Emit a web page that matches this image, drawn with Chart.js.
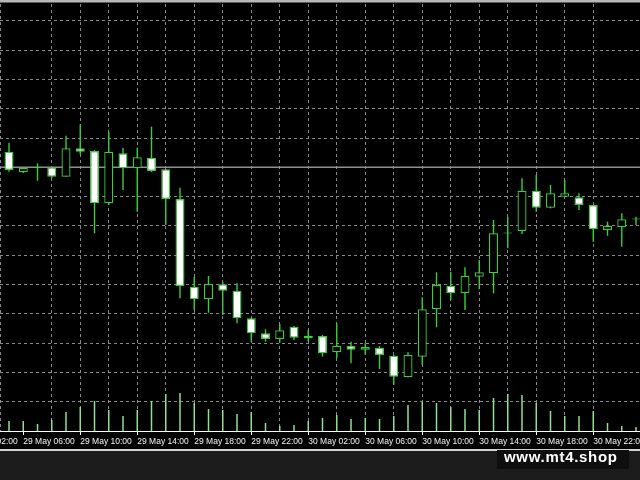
<!DOCTYPE html>
<html>
<head>
<meta charset="utf-8">
<script src="https://cdn.jsdelivr.net/npm/chart.js@4.4.1/dist/chart.umd.min.js"></script>
<style>
    html, body { margin: 0; padding: 0; background: #1c1c1c; }
    #wrap { position: relative; width: 640px; height: 480px; overflow: hidden; background: #1c1c1c; }
    #chartBox { position: absolute; left: 0; top: 0; width: 640px; height: 449px; }
    #sep { position: absolute; left: 0; top: 449px; width: 640px; height: 2px; background: #d2d2d2; }
    #brand { position: absolute; left: 497px; top: 450px; width: 132px; height: 19px; background: #0e0e0e; }
    #brand span { position: absolute; left: 7px; top: -2px; line-height: 17px; font: bold 15px 'Liberation Sans', Arial, sans-serif; letter-spacing: 0.7px; color: #ffffff; white-space: nowrap; }
</style>
</head>
<body>
<div id="wrap">
    <div id="chartBox"><canvas id="mtChart"></canvas></div>
    <div id="sep"></div>
    <div id="brand"><span>www.mt4.shop</span></div>
</div>
<script>
// hourly bars, 29 May 05:00 -> 31 May 01:00
var hours = [
    '29 May 05:00', '29 May 06:00', '29 May 07:00', '29 May 08:00', '29 May 09:00', '29 May 10:00',
    '29 May 11:00', '29 May 12:00', '29 May 13:00', '29 May 14:00', '29 May 15:00', '29 May 16:00',
    '29 May 17:00', '29 May 18:00', '29 May 19:00', '29 May 20:00', '29 May 21:00', '29 May 22:00',
    '29 May 23:00', '30 May 00:00', '30 May 01:00', '30 May 02:00', '30 May 03:00', '30 May 04:00',
    '30 May 05:00', '30 May 06:00', '30 May 07:00', '30 May 08:00', '30 May 09:00', '30 May 10:00',
    '30 May 11:00', '30 May 12:00', '30 May 13:00', '30 May 14:00', '30 May 15:00', '30 May 16:00',
    '30 May 17:00', '30 May 18:00', '30 May 19:00', '30 May 20:00', '30 May 21:00', '30 May 22:00',
    '30 May 23:00', '31 May 00:00', '31 May 01:00'
];

var openP = [
    1.10793, 1.10587, 1.10640, 1.10637, 1.10543, 1.10827, 1.10800, 1.10277, 1.10777, 1.10627,
    1.10733, 1.10617, 1.10320, 1.09443, 1.09317, 1.09467, 1.09403, 1.09127, 1.08977, 1.08920,
    1.09043, 1.08927, 1.08950, 1.08787, 1.08850, 1.08813, 1.08833, 1.08753, 1.08537, 1.08743,
    1.09217, 1.09453, 1.09377, 1.09543, 1.09577, 1.09975, 1.10000, 1.10403, 1.10233, 1.10343,
    1.10337, 1.10260, 1.10010, 1.10037, 1.10115
];
var highP = [
    1.10883, 1.10640, 1.10677, 1.10643, 1.10953, 1.11067, 1.10810, 1.10993, 1.10833, 1.10833,
    1.11043, 1.10620, 1.10433, 1.09543, 1.09550, 1.09493, 1.09477, 1.09130, 1.09017, 1.09070,
    1.09050, 1.09010, 1.08960, 1.09077, 1.08893, 1.08877, 1.08850, 1.08760, 1.08787, 1.09337,
    1.09587, 1.09593, 1.09637, 1.09710, 1.10110, 1.10143, 1.10527, 1.10560, 1.10460, 1.10510,
    1.10377, 1.10260, 1.10093, 1.10177, 1.10143
];
var lowP = [
    1.10593, 1.10580, 1.10503, 1.10527, 1.10543, 1.10767, 1.09977, 1.10260, 1.10410, 1.10193,
    1.10590, 1.10060, 1.09327, 1.09210, 1.09183, 1.09160, 1.09077, 1.08893, 1.08893, 1.08883,
    1.08910, 1.08893, 1.08743, 1.08727, 1.08677, 1.08760, 1.08620, 1.08460, 1.08537, 1.08660,
    1.09037, 1.09310, 1.09210, 1.09417, 1.09377, 1.09827, 1.09970, 1.10193, 1.10227, 1.10343,
    1.10210, 1.09893, 1.09953, 1.09843, 1.10060
];
var closeP = [
    1.10610, 1.10633, 1.10630, 1.10543, 1.10827, 1.10793, 1.10277, 1.10793, 1.10627, 1.10737,
    1.10600, 1.10320, 1.09450, 1.09317, 1.09470, 1.09403, 1.09127, 1.08977, 1.08920, 1.09007,
    1.08933, 1.08953, 1.08777, 1.08853, 1.08813, 1.08840, 1.08760, 1.08543, 1.08760, 1.09217,
    1.09460, 1.09377, 1.09550, 1.09587, 1.09977, 1.09985, 1.10403, 1.10233, 1.10377, 1.10377,
    1.10260, 1.10017, 1.10053, 1.10117, 1.10125
];
var volume = [
    400, 400, 280, 440, 760, 960, 1200, 840, 600, 840,
    1200, 1480, 1520, 1120, 880, 840, 680, 760, 320, 200,
    240, 400, 520, 640, 480, 520, 480, 600, 1040, 1160,
    1120, 960, 880, 840, 1320, 1480, 1440, 1120, 800, 600,
    600, 800, 320, 200, 160
];

// time scale labels every 4 hours (first one only half on screen)
var axisLabels = [
    '29 May 02:00', '29 May 06:00', '29 May 10:00', '29 May 14:00', '29 May 18:00', '29 May 22:00',
    '30 May 02:00', '30 May 06:00', '30 May 10:00', '30 May 14:00', '30 May 18:00', '30 May 22:00'
];
// price grid levels and the bid line
var priceGrid = [
    1.08000, 1.08293, 1.08586, 1.08879, 1.09172, 1.09465, 1.09758, 1.10051,
    1.10344, 1.10637, 1.10930, 1.11223, 1.11516, 1.11809, 1.12102
];
var bidLine = 1.10637;

var candleGreen = '#3ccd3c';
var volGreen = '#8fe08f';
var gridGrey = '#8a8a8a';

var bodyData = [], wickData = [], volData = [], bodyFill = [];
for (var i = 0; i < hours.length; i++) {
    var x = i - 1; // hours after 29 May 06:00
    bodyData.push({x: x, y: [openP[i], closeP[i]]});
    wickData.push({x: x, y: [lowP[i], highP[i]]});
    volData.push({x: x, y: volume[i]});
    bodyFill.push(closeP[i] > openP[i] ? '#000000' : '#ffffff');
}

var mtPlugin = {
    id: 'mt',
    beforeDraw: function (chart) {
        var c = chart.ctx;
        c.save();
        c.fillStyle = '#000000';
        c.fillRect(0, 0, chart.width, chart.height);
        c.fillStyle = '#b8b8b8';
        c.fillRect(0, 0, chart.width, 2);
        c.fillStyle = '#5c5c5c';
        c.fillRect(0, 2, chart.width, 1);
        c.restore();
    },
    beforeDatasetsDraw: function (chart) {
        var c = chart.ctx;
        var yb = chart.scales.y.getPixelForValue(bidLine);
        c.save();
        c.strokeStyle = '#8e8e8e';
        c.lineWidth = 1.5;
        c.beginPath();
        c.moveTo(chart.chartArea.left, yb);
        c.lineTo(chart.chartArea.right, yb);
        c.stroke();
        c.restore();
    },
    afterDraw: function (chart) {
        var c = chart.ctx;
        var xs = chart.scales.x;
        var bottom = chart.chartArea.bottom;
        c.save();
        c.font = "8.5px 'Liberation Sans', Arial, sans-serif";
        c.textAlign = 'left';
        c.textBaseline = 'alphabetic';
        c.fillStyle = '#f4f4f4';
        c.strokeStyle = '#ffffff';
        c.lineWidth = 1;
        for (var k = 0; k < axisLabels.length; k++) {
            var px = xs.getPixelForValue(4 * k - 4);
            c.beginPath();
            c.moveTo(Math.round(px) + 0.5, bottom);
            c.lineTo(Math.round(px) + 0.5, bottom + 4);
            c.stroke();
            c.fillText(axisLabels[k], px, bottom + 13);
        }
        c.restore();
    }
};

var ctx = document.getElementById('mtChart').getContext('2d');
var myChart = new Chart(ctx, {
    type: 'bar',
    data: {
        datasets: [{
            label: 'Body',
            data: bodyData,
            yAxisID: 'y',
            order: 1,
            grouped: false,
            barThickness: 9,
            backgroundColor: bodyFill,
            borderColor: candleGreen,
            borderWidth: 1.3,
            borderSkipped: false,
            inflateAmount: 0
        }, {
            label: 'Wick',
            data: wickData,
            yAxisID: 'y',
            order: 2,
            grouped: false,
            barThickness: 1.4,
            backgroundColor: candleGreen,
            borderWidth: 0,
            inflateAmount: 0
        }, {
            label: 'Volume',
            data: volData,
            yAxisID: 'vol',
            order: 3,
            grouped: false,
            barThickness: 1.5,
            backgroundColor: volGreen,
            borderWidth: 0,
            inflateAmount: 0
        }]
    },
    options: {
        responsive: true,
        maintainAspectRatio: false,
        animation: false,
        layout: { padding: { top: 4, bottom: 18, left: 0, right: 0 } },
        plugins: {
            legend: { display: false },
            tooltip: { enabled: false }
        },
        scales: {
            x: {
                type: 'linear',
                offset: false,
                min: -1.632,
                max: 43.28,
                ticks: { display: false, stepSize: 2 },
                grid: { offset: false, color: gridGrey, drawTicks: false },
                border: { display: true, color: '#ffffff', width: 1, dash: [3, 3] }
            },
            y: {
                position: 'left',
                min: 1.08,
                max: 1.1227,
                afterBuildTicks: function (scale) {
                    scale.ticks = priceGrid.map(function (v) { return {value: v}; });
                },
                ticks: { display: false },
                grid: { color: gridGrey, drawTicks: false },
                border: { display: false, dash: [3, 3] }
            },
            vol: {
                display: false,
                min: 0,
                max: 17080
            }
        }
    },
    plugins: [mtPlugin]
});
</script>
</body>
</html>
